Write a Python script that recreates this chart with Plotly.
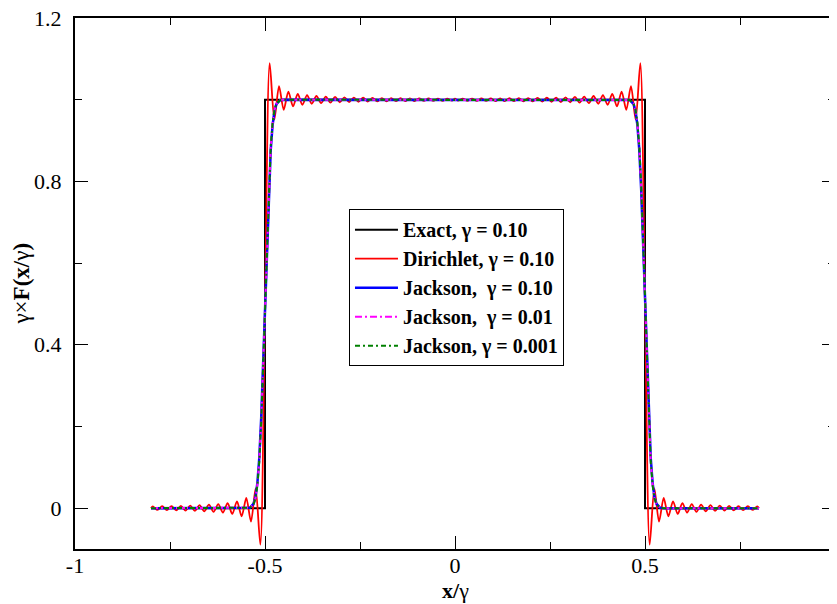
import plotly.graph_objects as go

# exact step
exact_x = [-0.8, -0.5, -0.5, 0.5, 0.5, 0.8]
exact_y = [0.0, 0.0, 1.0, 1.0, 0.0, 0.0]

# Dirichlet (gamma = 0.10): ripple extrema
dir_x_left_out = [-0.8, -0.7952, -0.7829, -0.7706, -0.7583, -0.746, -0.7337, -0.7214,
                  -0.7091, -0.6968, -0.6845, -0.6722, -0.6599, -0.6476, -0.6353, -0.623,
                  -0.6107, -0.5984, -0.5861, -0.5738, -0.5615, -0.5492, -0.5369, -0.5246,
                  -0.5123, -0.5]
dir_y_left_out = [0.0, 0.0042, -0.0044, 0.0046, -0.0048, 0.0050, -0.0053, 0.0056,
                  -0.0059, 0.0063, -0.0067, 0.0072, -0.0077, 0.0084, -0.0091, 0.0100,
                  -0.0111, 0.0125, -0.0142, 0.0166, -0.0199, 0.0248, -0.0331, 0.0486,
                  -0.0895, 0.5]
dir_x_left_in = [-0.4877, -0.4754, -0.4631, -0.4508, -0.4385, -0.4262, -0.4139, -0.4016,
                 -0.3893, -0.377, -0.3647, -0.3524, -0.3401, -0.3278, -0.3155, -0.3032,
                 -0.2909, -0.2786, -0.2663, -0.254, -0.2417, -0.2294, -0.2171, -0.2048,
                 -0.1925, -0.1802, -0.1679, -0.1556, -0.1433, -0.131, -0.1187, -0.1064,
                 -0.0941, -0.0818, -0.0695, -0.0572, -0.0449, -0.0326, -0.0203, -0.008, 0.0]
dir_y_left_in = [1.0895, 0.9514, 1.0331, 0.9752, 1.0199, 0.9834, 1.0142, 0.9875,
                 1.0111, 0.9900, 1.0091, 0.9916, 1.0077, 0.9928, 1.0067, 0.9937,
                 1.0059, 0.9944, 1.0053, 0.9950, 1.0048, 0.9954, 1.0044, 0.9958,
                 1.0040, 0.9961, 1.0037, 0.9964, 1.0035, 0.9966, 1.0033, 0.9968,
                 1.0031, 0.9970, 1.0029, 0.9972, 1.0027, 0.9973, 1.0026, 0.9975, 1.0025]
dir_x_right_in = [0.008, 0.0203, 0.0326, 0.0449, 0.0572, 0.0695, 0.0818, 0.0941,
                  0.1064, 0.1187, 0.131, 0.1433, 0.1556, 0.1679, 0.1802, 0.1925,
                  0.2048, 0.2171, 0.2294, 0.2417, 0.254, 0.2663, 0.2786, 0.2909,
                  0.3032, 0.3155, 0.3278, 0.3401, 0.3524, 0.3647, 0.377, 0.3893,
                  0.4016, 0.4139, 0.4262, 0.4385, 0.4508, 0.4631, 0.4754, 0.4877]
dir_y_right_in = [0.9975, 1.0026, 0.9973, 1.0027, 0.9972, 1.0029, 0.9970, 1.0031,
                  0.9968, 1.0033, 0.9966, 1.0035, 0.9964, 1.0037, 0.9961, 1.0040,
                  0.9958, 1.0044, 0.9954, 1.0048, 0.9950, 1.0053, 0.9944, 1.0059,
                  0.9937, 1.0067, 0.9928, 1.0077, 0.9916, 1.0091, 0.9900, 1.0111,
                  0.9875, 1.0142, 0.9834, 1.0199, 0.9752, 1.0331, 0.9514, 1.0895]
dir_x_right_out = [0.5, 0.5123, 0.5246, 0.5369, 0.5492, 0.5615, 0.5738, 0.5861, 0.5984,
                   0.6107, 0.623, 0.6353, 0.6476, 0.6599, 0.6722, 0.6845, 0.6968,
                   0.7091, 0.7214, 0.7337, 0.746, 0.7583, 0.7706, 0.7829, 0.7952, 0.8]
dir_y_right_out = [0.5, -0.0895, 0.0486, -0.0331, 0.0248, -0.0199, 0.0166, -0.0142, 0.0125,
                   -0.0111, 0.0100, -0.0091, 0.0084, -0.0077, 0.0072, -0.0067, 0.0063,
                   -0.0059, 0.0056, -0.0053, 0.0050, -0.0048, 0.0046, -0.0044, 0.0042, 0.0]

# Jackson curves: smooth edges
jack_x = [-0.8, -0.6, -0.55, -0.54, -0.53, -0.525, -0.52, -0.515, -0.51, -0.505, -0.5,
          -0.495, -0.49, -0.485, -0.48, -0.475, -0.47, -0.46, -0.45, -0.4, 0.0,
          0.4, 0.45, 0.46, 0.47, 0.475, 0.48, 0.485, 0.49, 0.495, 0.5,
          0.505, 0.51, 0.515, 0.52, 0.525, 0.53, 0.54, 0.55, 0.6, 0.8]
jack010_y = [0.0, 0.0, 0.0, 0.001, 0.011, 0.027, 0.062, 0.124, 0.221, 0.35, 0.5,
             0.65, 0.779, 0.876, 0.938, 0.973, 0.989, 0.999, 1.0, 1.0, 1.0,
             1.0, 1.0, 0.999, 0.989, 0.973, 0.938, 0.876, 0.779, 0.65, 0.5,
             0.35, 0.221, 0.124, 0.062, 0.027, 0.011, 0.001, 0.0, 0.0, 0.0]
jack001_y = [0.0, 0.0, 0.0, 0.001, 0.010, 0.025, 0.058, 0.118, 0.215, 0.347, 0.5,
             0.653, 0.785, 0.882, 0.942, 0.975, 0.990, 0.999, 1.0, 1.0, 1.0,
             1.0, 1.0, 0.999, 0.990, 0.975, 0.942, 0.882, 0.785, 0.653, 0.5,
             0.347, 0.215, 0.118, 0.058, 0.025, 0.010, 0.001, 0.0, 0.0, 0.0]
jack0001_y = [0.0, 0.0, 0.0, 0.001, 0.010, 0.024, 0.056, 0.115, 0.212, 0.345, 0.5,
              0.655, 0.788, 0.885, 0.944, 0.976, 0.990, 0.999, 1.0, 1.0, 1.0,
              1.0, 1.0, 0.999, 0.990, 0.976, 0.944, 0.885, 0.788, 0.655, 0.5,
              0.345, 0.212, 0.115, 0.056, 0.024, 0.010, 0.001, 0.0, 0.0, 0.0]

x_ticks = [-1, -0.5, 0, 0.5, 1]
x_tick_text = ["-1", "-0.5", "0", "0.5", "1"]
y_ticks = [0, 0.4, 0.8, 1.2]
y_tick_text = ["0", "0.4", "0.8", "1.2"]

dir_x = dir_x_left_out + dir_x_left_in + dir_x_right_in + dir_x_right_out
dir_y = dir_y_left_out + dir_y_left_in + dir_y_right_in + dir_y_right_out

FONT = "Liberation Serif"
NB = "\u00a0"

fig = go.Figure()
fig.add_trace(go.Scatter(x=exact_x, y=exact_y, mode="lines", name="<b>Exact, γ = 0.10</b>",
                         line=dict(color="black", width=2)))
fig.add_trace(go.Scatter(x=dir_x, y=dir_y, mode="lines", name="<b>Dirichlet, γ = 0.10</b>",
                         line=dict(color="red", width=1.8, shape="spline", smoothing=0.8)))
fig.add_trace(go.Scatter(x=jack_x, y=jack010_y, mode="lines",
                         name="<b>Jackson," + NB + " γ = 0.10</b>",
                         line=dict(color="blue", width=2.5)))
fig.add_trace(go.Scatter(x=jack_x, y=jack001_y, mode="lines",
                         name="<b>Jackson," + NB + " γ = 0.01</b>",
                         line=dict(color="magenta", width=2, dash="7px,3px,2px,3px")))
fig.add_trace(go.Scatter(x=jack_x, y=jack0001_y, mode="lines",
                         name="<b>Jackson, γ = 0.001</b>",
                         line=dict(color="green", width=2, dash="5px,3px,2px,3px")))

axis_common = dict(
    showline=True, linecolor="black", linewidth=2, mirror="allticks",
    ticks="inside", ticklen=13, tickwidth=1, tickcolor="black",
    showgrid=False, zeroline=False, tickmode="array", ticklabeloverflow="allow",
    automargin=False,
    tickfont=dict(family=FONT, size=22, color="black"),
)
fig.update_xaxes(range=[-1, 1], tickvals=x_ticks, ticktext=x_tick_text, ticklabelstandoff=-4,
                 minor=dict(dtick=0.25, tick0=0, ticks="inside", ticklen=7, tickcolor="black"),
                 **axis_common)
fig.update_yaxes(range=[-0.1, 1.2], tickvals=y_ticks, ticktext=y_tick_text, ticklabelstandoff=7,
                 minor=dict(dtick=0.2, tick0=0, ticks="inside", ticklen=7, tickcolor="black"),
                 **axis_common)

fig.add_annotation(text="<b>x/</b>γ", xref="paper", yref="paper", x=0.5, y=-0.079,
                   showarrow=False, font=dict(family=FONT, size=22, color="black"),
                   xanchor="center", yanchor="middle")
fig.add_annotation(text="γ×<b>F(x/</b>γ<b>)</b>", xref="paper", yref="paper", x=-0.071, y=0.5,
                   textangle=-90, showarrow=False,
                   font=dict(family=FONT, size=23, color="black"),
                   xanchor="center", yanchor="middle")

# page body has an 8px margin, so the figure is shrunk/offset to match
fig.update_layout(
    width=829, height=596,
    margin=dict(l=67, r=2, t=10, b=55),
    paper_bgcolor="white", plot_bgcolor="white",
    legend=dict(x=0.3605, y=0.64, xanchor="left", yanchor="top",
                bordercolor="black", borderwidth=1, bgcolor="white",
                itemwidth=43,
                font=dict(family=FONT, size=20, color="black")),
    showlegend=True,
)

fig.write_html("out.html")
